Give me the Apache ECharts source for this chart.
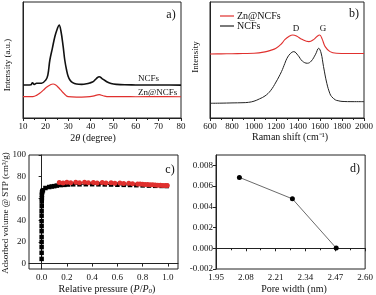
<!DOCTYPE html>
<html><head><meta charset="utf-8">
<script src="https://cdn.jsdelivr.net/npm/echarts@6/dist/echarts.min.js"></script>
<style>html,body{margin:0;padding:0;background:#fff}#c{width:376px;height:295px}</style>
</head><body><div id="c"></div>
<script>
// Panel a: XRD
var xrdNcfsX = [10,12,13.5,14.2,15,16,18.2,20.1,21,21.9,23,24.1,25.2,26,26.8,27.8,28.5,29.3,30,30.8,32,33.7,36,38.2,40,41.1,42.5,43.8,45,47.1,49,51.5,55,60,65,70,75,80];
var xrdNcfsY = [28.4,28.4,28.6,30.4,29,29.9,30,32.8,37,50,60,70.1,77,80.2,75,61.5,50,41.4,36,32.8,30.5,29.3,29,29.5,30.5,31.3,34,35.6,34,31.3,29.8,29,28.6,28.5,28.4,28.4,28.4,28.3];
var xrdZnX = [10,12,14.4,16,17.4,19,20.4,22,23.3,24.5,25.6,26.8,27.8,29,30,33.7,38,41,43.8,45.5,48,55,60,70,80];
var xrdZnY = [18.4,18.4,18.5,19.5,21.3,24,26.5,28.5,29.3,28.5,26.5,24,21.8,19.5,18.4,18,18.2,18.8,20.1,19.2,18.4,18.4,18.3,18.4,18.3];
// Panel b: Raman
var ramNcfsX = [600,700,800,900,950,1000,1050,1100,1150,1200,1250,1280,1300,1330,1362,1400,1440,1485,1520,1560,1588,1610,1632,1662,1690,1706,1740,1765,1800,1900,2000];
var ramNcfsY = [12.7,12.8,13,13.2,13.5,14.5,16.5,19,23.5,31,40,47,51.5,55.5,57.2,54,49,47.2,49,55,60.1,56,44.3,29.9,21,18.4,15.6,14.9,14.3,14.1,14.1];
var ramZnX = [600,700,800,900,1000,1100,1150,1200,1250,1280,1320,1353,1390,1435,1500,1545,1575,1597,1620,1647,1691,1750,1850,2000];
var ramZnY = [55.2,55.3,55.4,55.6,55.8,57,58.3,60.1,64,67.5,70.5,71.6,70.5,67.8,65.8,67.8,70.5,71.6,68,61.5,57.2,55.8,55.6,55.6];
// Panel c: isotherm
var adsP = [0,0,0,0,0,0,0,0,0,0,0.001,0.001,0.002,0.002,0.003,0.005,0.01,0.03,0.06,0.08,0.1,0.12,0.15,0.18,0.21,0.25,0.3,0.35,0.4,0.45,0.5,0.55,0.6,0.65,0.7,0.75,0.8,0.85,0.9,0.95,0.99];
var adsV = [4.3,9.9,15.2,19.9,24.5,29.8,34.5,39.1,44.1,48.5,53.1,57.2,60.3,63.4,65.5,66.5,67.5,69.6,70.5,71,71.3,71.8,72.3,72.5,72.8,73,73,73.1,73.1,73,72.9,72.8,72.6,72.5,72.4,72.2,72,71.8,71.6,71.5,71.4];
var desP = [0.14,0.17,0.2,0.23,0.27,0.3,0.34,0.37,0.41,0.44,0.48,0.51,0.55,0.58,0.62,0.65,0.69,0.72,0.76,0.78,0.8,0.82,0.84,0.86,0.88,0.9,0.92,0.94,0.96,0.98,0.995];
var desV = [74.6,74.3,74.8,74.5,74.8,74.4,74.9,74.5,74.7,74.3,74.6,74.2,74.4,74,74.2,73.8,73.9,73.5,73.4,73.2,73,72.9,72.8,72.6,72.5,72.3,72.2,72.1,72,71.9,71.8];
var cTicksX = [0,0.2,0.4,0.6,0.8,1.0];
var cTicksY = [0,20,40,60,80,100];
// Panel d: pore distribution
var poreW = [2.052,2.283,2.474];
var poreV = [0.00684,0.00477,0.00002];
var dTicksY = [-0.002,0,0.002,0.004,0.006,0.008];

function pairs(xs, ys){ return xs.map(function(x,i){ return [x, ys[i]]; }); }

var FONT = '"Liberation Serif", "Times New Roman", serif';
var RED = '#e0302e';
var axLine = {show:true, lineStyle:{color:'#222', width:1}};
function xAx(gi, min, max, interval, fmt, custom){
  var a = {type:'value', gridIndex:gi, min:min, max:max, interval:interval,
    axisLine:axLine, axisTick:{show:true, inside:false, length:3, lineStyle:{color:'#222'}},
    minorTick:{show:!custom, splitNumber:2, length:2, lineStyle:{color:'#222'}},
    splitLine:{show:false},
    axisLabel:{fontFamily:FONT, fontSize:9, color:'#111', margin:4, formatter:fmt}};
  if (custom){ a.axisTick.customValues = custom; a.axisLabel.customValues = custom; }
  return a;
}
function yAx(gi, min, max, interval, showLab, fmt, custom){
  var a = {type:'value', gridIndex:gi, min:min, max:max, interval:interval,
    axisLine:axLine, axisTick:{show:showLab, length:3, lineStyle:{color:'#222'}},
    splitLine:{show:false},
    axisLabel:{show:showLab, fontFamily:FONT, fontSize:9, color:'#111', margin:3, formatter:fmt}};
  if (custom){ a.axisTick.customValues = custom; a.axisLabel.customValues = custom; }
  return a;
}
function txt(x, y, s, size, opts){
  var o = {type:'text', x:x, y:y, style:{text:s, font: size + 'px ' + FONT, fill:'#111',
    align:(opts&&opts.align)||'center', verticalAlign:'middle'}};
  if (opts && opts.rich) o.style.rich = opts.rich;
  if (opts && opts.rot) o.rotation = opts.rot;
  return o;
}
var richBase = {i:{fontStyle:'italic', fontFamily:FONT, fontSize:10}, n:{fontFamily:FONT, fontSize:10}, sub:{fontFamily:FONT, fontSize:7, fontStyle:'italic', padding:[4,0,0,0]}};

var chart = echarts.init(document.getElementById('c'));
chart.setOption({
  animation:false,
  textStyle:{fontFamily:FONT},
  grid:[
    {left:23, top:2, width:158, height:116, show:true, borderColor:'#222', borderWidth:1},
    {left:210, top:2, width:158, height:116, show:true, borderColor:'#222', borderWidth:1},
    {left:29, top:155, width:149, height:114, show:true, borderColor:'#222', borderWidth:1},
    {left:216, top:155, width:152, height:114, show:true, borderColor:'#222', borderWidth:1}
  ],
  xAxis:[
    xAx(0, 10, 80, 10),
    xAx(1, 600, 2000, 200, function(v){ return String(v); }),
    xAx(2, -0.1, 1.08, 0.2, function(v){ return v.toFixed(1); }, cTicksX),
    xAx(3, 1.95, 2.6, 0.13, function(v){ return v.toFixed(2); })
  ],
  yAxis:[
    yAx(0, 0, 100, 20, false),
    yAx(1, 0, 100, 20, false),
    yAx(2, -5, 100, 20, true, function(v){ return String(Math.round(v)); }, cTicksY),
    yAx(3, -0.002, 0.009, 0.002, true, function(v){ return v.toFixed(3); }, dTicksY)
  ],
  legend:{left:215, top:6, orient:'vertical', itemGap:0, itemWidth:14, itemHeight:1.2, icon:'rect',
    textStyle:{fontFamily:FONT, fontSize:10, color:'#111', padding:[0,0,0,-2]},
    data:[{name:'Zn@NCFs', itemStyle:{color:RED}}, {name:'NCFs', itemStyle:{color:'#222'}}]},
  series:[
    {type:'line', xAxisIndex:0, yAxisIndex:0, data:pairs(xrdNcfsX, xrdNcfsY), smooth:0.4, showSymbol:false, lineStyle:{color:'#111', width:1.6}},
    {type:'line', xAxisIndex:0, yAxisIndex:0, data:pairs(xrdZnX, xrdZnY), smooth:0.4, showSymbol:false, lineStyle:{color:RED, width:1.2}},
    {name:'Zn@NCFs', type:'line', xAxisIndex:1, yAxisIndex:1, data:pairs(ramZnX, ramZnY), smooth:0.4, showSymbol:false, itemStyle:{color:RED}, lineStyle:{color:RED, width:1.1}},
    {name:'NCFs', type:'line', xAxisIndex:1, yAxisIndex:1, data:pairs(ramNcfsX, ramNcfsY), smooth:0.4, showSymbol:false, itemStyle:{color:'#222'}, lineStyle:{color:'#222', width:1}},
    {type:'line', xAxisIndex:2, yAxisIndex:2, data:pairs(adsP, adsV), symbol:'rect', symbolSize:4.5, itemStyle:{color:'#000'}, lineStyle:{color:'#000', width:1}},
    {type:'line', xAxisIndex:2, yAxisIndex:2, data:pairs(desP, desV), symbol:'circle', symbolSize:5, itemStyle:{color:RED}, lineStyle:{color:RED, width:1}},
    {type:'line', xAxisIndex:3, yAxisIndex:3, data:pairs(poreW, poreV), symbol:'circle', symbolSize:5, itemStyle:{color:'#000'}, lineStyle:{color:'#444', width:0.8}}
  ],
  graphic:[
    txt(171, 15, 'a)', 12),
    txt(138, 79, 'NCFs', 9, {align:'left'}),
    txt(138, 93, 'Zn@NCFs', 9, {align:'left'}),
    txt(8, 65, 'Intensity (a.u.)', 9, {rot:Math.PI/2}),
    txt(93, 138, '{n|2}{i|θ}{n| (degree)}', 10, {rich:richBase}),
    txt(354, 14, 'b)', 12),
    txt(296, 29, 'D', 9),
    txt(323, 29, 'G', 9),
    txt(196, 57, 'Intensity', 9, {rot:Math.PI/2}),
    txt(290, 137, 'Raman shift (cm\u207B\u00B9)', 10),
    txt(170, 170, 'c)', 12),
    txt(6, 213, 'Adsorbed volume @ STP (cm\u00B3/g)', 9, {rot:Math.PI/2}),
    txt(107, 289, '{n|Relative pressure (}{i|P}{n|/}{i|P}{sub|0}{n|)}', 10, {rich:richBase}),
    txt(355, 169, 'd)', 12),
    txt(294, 289, 'Pore width (nm)', 10)
  ]
});
</script></body></html>
